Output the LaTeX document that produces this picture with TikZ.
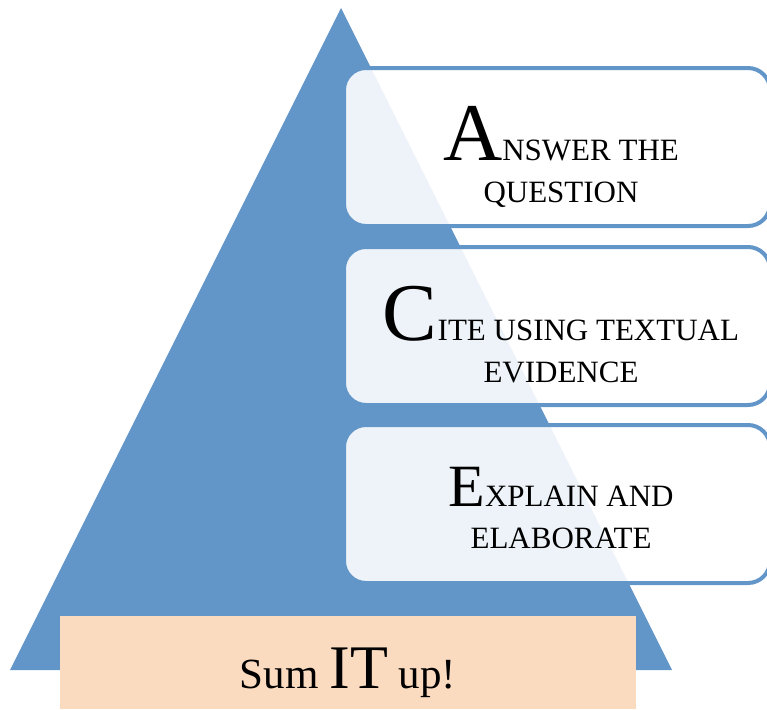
\documentclass[tikz,border=0pt]{standalone}
\usepackage{fontspec}
\setmainfont{Liberation Serif}
\definecolor{pyrblue}{RGB}{98,150,201}
\definecolor{sumpeach}{RGB}{251,219,192}
\newcommand{\stepword}[3][82]{{\fontsize{#1}{#1}\selectfont #2}#3}
\tikzset{
  stepbox/.style={draw=pyrblue, line width=4pt, fill=white, fill opacity=0.885,
    rounded corners=22pt, minimum width=426pt, minimum height=158pt, inner sep=0pt},
  steptext/.style={align=center, anchor=base, inner sep=0pt,
    font=\fontsize{31}{42}\selectfont},
}
\begin{document}
\begin{tikzpicture}[x=1pt,y=-1pt]
   \useasboundingbox (0,0) rectangle (767,709);
   % pyramid
   \fill[pyrblue] (341,8) -- (672,670) -- (10,670) -- cycle;
   % steps
   \node[stepbox] (answer) at (557,147) {};
   \node[stepbox] (cite) at (557,326) {};
   \node[stepbox] (explain) at (557,504) {};
   \node[steptext] (answertext) at (561,202) {\stepword{A}{NSWER THE}\\QUESTION};
   \node[steptext] (citetext) at (561,382) {\stepword{C}{ITE USING TEXTUAL}\\EVIDENCE};
   \node[steptext] (explaintext) at (561,548) {\stepword[60]{E}{XPLAIN AND}\\ELABORATE};
   % base
   \node[fill=sumpeach, minimum width=576pt, minimum height=93pt, anchor=north west,
     inner sep=0pt] (sumup) at (60,616) {};
   \node[anchor=base, inner sep=0pt] (sumtext) at (348,688)
     {\fontsize{43}{43}\selectfont Sum {\fontsize{62}{62}\selectfont IT} up!};
\end{tikzpicture}
\end{document}
